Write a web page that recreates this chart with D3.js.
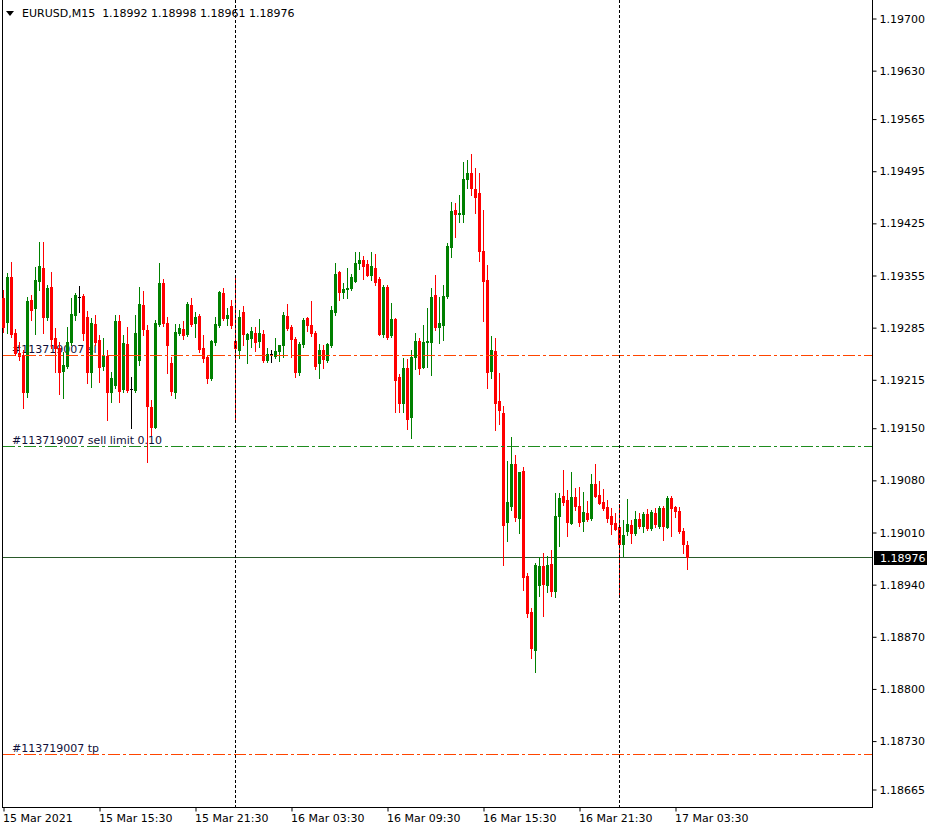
<!DOCTYPE html>
<html><head><meta charset="utf-8">
<script src="https://cdn.jsdelivr.net/npm/d3@7"></script>
<style>
html,body{margin:0;padding:0;background:#fff;}
svg{display:block;}
text{font-family:"DejaVu Sans",sans-serif;font-size:11px;fill:#000;}
</style>
</head><body>
<svg id="c" width="936" height="832"></svg>
<script>
const symbolTitle = "EURUSD,M15";
const lastQuote = [1.18992, 1.18998, 1.18961, 1.18976];

const opens = [1.19324,1.19292,1.19352,1.19277,1.19250,1.19248,1.19198,1.19322,1.19311,1.19347,
1.19365,1.19299,1.19339,1.19270,1.19257,1.19226,1.19233,1.19265,1.19301,1.19326,
1.19327,1.19299,1.19225,1.19289,1.19268,1.19233,1.19246,1.19198,1.19207,1.19293,
1.19202,1.19262,1.19202,1.19201,1.19241,1.19315,1.19281,1.19178,1.19151,1.19289,
1.19344,1.19291,1.19237,1.19198,1.19277,1.19282,1.19276,1.19315,1.19291,1.19300,
1.19257,1.19245,1.19217,1.19265,1.19288,1.19331,1.19297,1.19313,1.19266,1.19254,
1.19305,1.19269,1.19270,1.19277,1.19266,1.19276,1.19241,1.19249,1.19246,1.19253,
1.19261,1.19300,1.19285,1.19269,1.19225,1.19262,1.19297,1.19288,1.19277,1.19237,
1.19254,1.19241,1.19261,1.19305,1.19359,1.19332,1.19336,1.19338,1.19347,1.19371,
1.19375,1.19370,1.19355,1.19365,1.19350,1.19276,1.19339,1.19275,1.19296,1.19218,
1.19183,1.19230,1.19164,1.19245,1.19266,1.19232,1.19265,1.19265,1.19328,1.19285,
1.19288,1.19327,1.19393,1.19442,1.19437,1.19437,1.19484,1.19492,1.19470,1.19465,
1.19387,1.19348,1.19226,1.19253,1.19186,1.19170,1.19023,1.19045,1.19101,1.19029,
1.19092,1.18951,1.18903,1.18852,1.18939,1.18964,1.18939,1.18967,1.18931,1.19032,
1.19058,1.19053,1.19022,1.19057,1.19045,1.19025,1.19036,1.19029,1.19075,1.19060,
1.19050,1.19044,1.19032,1.19022,1.19017,1.18994,1.19011,1.19020,1.19009,1.19028,
1.19018,1.19034,1.19015,1.19036,1.19018,1.19042,1.19017,1.19056,1.19044,1.19038,
1.19011,1.18992];

const highs = [1.19335,1.19358,1.19372,1.19283,1.19265,1.19254,1.19326,1.19328,1.19366,1.19399,
1.19399,1.19342,1.19359,1.19284,1.19265,1.19252,1.19285,1.19324,1.19331,1.19340,
1.19330,1.19307,1.19297,1.19301,1.19275,1.19270,1.19254,1.19225,1.19301,1.19301,
1.19275,1.19285,1.19218,1.19301,1.19339,1.19334,1.19288,1.19187,1.19295,1.19371,
1.19350,1.19299,1.19245,1.19289,1.19289,1.19293,1.19319,1.19324,1.19305,1.19303,
1.19275,1.19248,1.19268,1.19299,1.19334,1.19338,1.19311,1.19322,1.19352,1.19308,
1.19313,1.19277,1.19285,1.19285,1.19296,1.19281,1.19257,1.19254,1.19270,1.19261,
1.19305,1.19316,1.19288,1.19272,1.19265,1.19297,1.19299,1.19320,1.19280,1.19262,
1.19261,1.19264,1.19313,1.19371,1.19360,1.19344,1.19365,1.19356,1.19386,1.19386,
1.19381,1.19375,1.19386,1.19383,1.19352,1.19342,1.19342,1.19318,1.19297,1.19222,
1.19244,1.19242,1.19254,1.19277,1.19270,1.19288,1.19311,1.19338,1.19355,1.19326,
1.19342,1.19398,1.19453,1.19452,1.19462,1.19507,1.19509,1.19518,1.19499,1.19492,
1.19442,1.19369,1.19273,1.19270,1.19224,1.19179,1.19105,1.19138,1.19113,1.19091,
1.19097,1.18955,1.18908,1.18968,1.18977,1.18982,1.18978,1.18986,1.19062,1.19062,
1.19093,1.19066,1.19091,1.19069,1.19070,1.19064,1.19052,1.19088,1.19101,1.19079,
1.19068,1.19053,1.19042,1.19036,1.19048,1.19026,1.19054,1.19026,1.19038,1.19036,
1.19037,1.19041,1.19040,1.19042,1.19045,1.19045,1.19058,1.19058,1.19045,1.19044,
1.19015,1.18998];

const lows = [1.19279,1.19277,1.19272,1.19248,1.19241,1.19177,1.19191,1.19295,1.19276,1.19335,
1.19277,1.19295,1.19257,1.19225,1.19195,1.19190,1.19230,1.19261,1.19295,1.19305,
1.19268,1.19210,1.19205,1.19261,1.19211,1.19228,1.19160,1.19185,1.19203,1.19185,
1.19198,1.19198,1.19150,1.19198,1.19234,1.19275,1.19104,1.19140,1.19150,1.19287,
1.19287,1.19224,1.19194,1.19190,1.19275,1.19269,1.19273,1.19287,1.19272,1.19252,
1.19238,1.19210,1.19214,1.19261,1.19285,1.19295,1.19288,1.19284,1.19160,1.19244,
1.19261,1.19237,1.19258,1.19253,1.19258,1.19238,1.19238,1.19238,1.19244,1.19240,
1.19245,1.19281,1.19245,1.19218,1.19221,1.19258,1.19280,1.19273,1.19229,1.19217,
1.19230,1.19238,1.19258,1.19301,1.19322,1.19324,1.19324,1.19335,1.19346,1.19363,
1.19350,1.19354,1.19348,1.19342,1.19275,1.19272,1.19269,1.19272,1.19171,1.19171,
1.19171,1.19148,1.19136,1.19229,1.19222,1.19230,1.19232,1.19221,1.19281,1.19264,
1.19268,1.19324,1.19379,1.19406,1.19426,1.19426,1.19472,1.19462,1.19438,1.19374,
1.19293,1.19203,1.19217,1.19147,1.19155,1.18966,1.18998,1.19040,1.19025,1.19009,
1.18932,1.18896,1.18841,1.18822,1.18924,1.18897,1.18929,1.18924,1.18923,1.18991,
1.19046,1.19005,1.19021,1.19040,1.19018,1.19011,1.19025,1.19026,1.19057,1.19048,
1.19040,1.19023,1.19007,1.19013,1.18926,1.18978,1.19006,1.18995,1.19006,1.19015,
1.19010,1.19013,1.19013,1.19017,1.19015,1.18999,1.19015,1.19005,1.19030,1.19009,
1.18982,1.18961];

const closes = [1.19285,1.19352,1.19276,1.19250,1.19246,1.19198,1.19320,1.19308,1.19348,1.19367,
1.19299,1.19338,1.19269,1.19257,1.19225,1.19234,1.19265,1.19303,1.19328,1.19326,
1.19277,1.19225,1.19291,1.19265,1.19232,1.19246,1.19198,1.19217,1.19293,1.19199,
1.19264,1.19201,1.19202,1.19277,1.19316,1.19282,1.19179,1.19151,1.19291,1.19344,
1.19291,1.19261,1.19199,1.19279,1.19284,1.19275,1.19316,1.19289,1.19299,1.19256,
1.19244,1.19217,1.19266,1.19289,1.19332,1.19297,1.19301,1.19288,1.19257,1.19299,
1.19276,1.19276,1.19280,1.19265,1.19277,1.19241,1.19249,1.19249,1.19253,1.19261,
1.19301,1.19284,1.19269,1.19225,1.19262,1.19295,1.19288,1.19277,1.19233,1.19254,
1.19242,1.19262,1.19308,1.19356,1.19332,1.19336,1.19338,1.19352,1.19371,1.19375,
1.19367,1.19355,1.19367,1.19346,1.19276,1.19339,1.19272,1.19296,1.19214,1.19183,
1.19230,1.19162,1.19245,1.19266,1.19230,1.19265,1.19266,1.19326,1.19285,1.19291,
1.19327,1.19394,1.19441,1.19437,1.19438,1.19484,1.19492,1.19472,1.19460,1.19387,
1.19347,1.19225,1.19254,1.19183,1.19174,1.19020,1.19050,1.19101,1.19030,1.19091,
1.18950,1.18901,1.18854,1.18966,1.18964,1.18940,1.18966,1.18931,1.19032,1.19056,
1.19050,1.19023,1.19057,1.19045,1.19023,1.19037,1.19028,1.19075,1.19058,1.19049,
1.19042,1.19029,1.19021,1.19014,1.18994,1.19006,1.19021,1.19009,1.19028,1.19018,
1.19034,1.19015,1.19037,1.19021,1.19042,1.19018,1.19056,1.19042,1.19038,1.19011,
1.18994,1.18976];

const priceTicks = [1.19700,1.19630,1.19565,1.19495,1.19425,1.19355,1.19285,1.19215,
1.19150,1.19080,1.19010,1.18940,1.18870,1.18800,1.18730,1.18665];
const timeTickBars = [0,24,48,72,96,120,144,168];
const timeTickLabels = ["15 Mar 2021","15 Mar 15:30","15 Mar 21:30","16 Mar 03:30",
"16 Mar 09:30","16 Mar 15:30","16 Mar 21:30","17 Mar 03:30"];
const separatorBars = [58,154];
const bidPrice = 1.18976;
const orderPrices = [1.19248, 1.19125, 1.18712];
const orderTexts = ["#113719007 sl", "#113719007 sell limit 0.10", "#113719007 tp"];

// styles
const orderColors = ["rgb(255,69,0)", "rgb(30,140,30)", "rgb(255,69,0)"];
const bullColor = "#008000", bearColor = "#ff0000", dojiColor = "#000000";
const bidColor = "#2a5a2a";

const n = opens.length;
const svg = d3.select("#c");
const plotLeft = 2, plotRight = 872, plotBottom = 807;

const x = d3.scaleLinear().domain([0, n - 1]).range([3, 687]);
const y = d3.scaleLinear().domain([1.18665, 1.19700]).range([789, 18]);
const X = i => Math.round(x(i));
const Y = v => Math.round(y(v));

svg.append("rect").attr("width", 936).attr("height", 832).attr("fill", "#fff");

const frame = svg.append("g").attr("shape-rendering", "crispEdges");
frame.append("line").attr("x1", plotLeft + 0.5).attr("x2", plotLeft + 0.5).attr("y1", 0).attr("y2", plotBottom + 0.5)
  .attr("stroke", "#000");
frame.append("line").attr("x1", plotLeft).attr("x2", plotRight + 1).attr("y1", plotBottom + 0.5).attr("y2", plotBottom + 0.5)
  .attr("stroke", "#000");
frame.append("line").attr("x1", plotRight + 0.5).attr("x2", plotRight + 0.5).attr("y1", 0).attr("y2", plotBottom + 0.5)
  .attr("stroke", "#000");

// order labels (behind candles)
const orders = svg.append("g");
orderPrices.forEach((p, k) => {
  orders.append("text").attr("x", 12).attr("y", Y(p) - 2.5).style("fill", "#10103a").text(orderTexts[k]);
});

// bid line
svg.append("line").attr("x1", plotLeft + 1).attr("x2", plotRight).attr("y1", Y(bidPrice) + 0.5).attr("y2", Y(bidPrice) + 0.5)
  .attr("stroke", bidColor).attr("shape-rendering", "crispEdges");

// candles
const data = d3.range(n).map(i => ({i, o: opens[i], h: highs[i], l: lows[i], c: closes[i]}));
const colorOf = d => d.c > d.o ? bullColor : (d.c < d.o ? bearColor : dojiColor);
const g = svg.append("g").attr("shape-rendering", "crispEdges");
g.selectAll("line.wick").data(data).join("line").attr("class", "wick")
  .attr("x1", d => X(d.i) + 0.5).attr("x2", d => X(d.i) + 0.5)
  .attr("y1", d => Y(d.h)).attr("y2", d => Y(d.l) + 1)
  .attr("stroke", colorOf);
g.selectAll("rect.body").data(data).join("rect").attr("class", "body")
  .attr("x", d => X(d.i) - 1).attr("width", 3)
  .attr("y", d => Y(Math.max(d.o, d.c)))
  .attr("height", d => Math.max(1, Y(Math.min(d.o, d.c)) - Y(Math.max(d.o, d.c)) + 1))
  .attr("fill", colorOf);

// order level lines (dash-dot), drawn as thin rects-free lines above candles
orderPrices.forEach((p, k) => {
  const yy = Y(p) + 0.5;
  svg.append("line").attr("x1", plotLeft + 1).attr("x2", plotRight).attr("y1", yy).attr("y2", yy)
    .attr("stroke", orderColors[k]).style("stroke", orderColors[k]).attr("stroke-width", 1)
    .attr("shape-rendering", "crispEdges").attr("stroke-dasharray", "12,3,3,3");
});

// period separators
separatorBars.forEach(b => {
  svg.append("line").attr("x1", X(b) + 0.5).attr("x2", X(b) + 0.5).attr("y1", 0).attr("y2", plotBottom)
    .attr("stroke", "#000").attr("stroke-dasharray", "3,2").attr("shape-rendering", "crispEdges");
});

// right price axis
const yAxis = d3.axisRight(y.copy().range([789.5, 18.5])).tickValues(priceTicks)
  .tickFormat(d => d.toFixed(5)).tickSize(4).tickPadding(3);
const ya = svg.append("g").attr("transform", `translate(${plotRight + 0.5},0)`).call(yAxis);
ya.select(".domain").remove();
ya.selectAll("text").style("font-family", "DejaVu Sans").style("font-size", "11px").attr("fill", "#000");
ya.selectAll("line").attr("stroke", "#000");

// bottom time axis
const xAxis = d3.axisBottom(x.copy().range([3.5, 687.5])).tickValues(timeTickBars)
  .tickFormat((d, k) => timeTickLabels[k]).tickSize(4).tickPadding(3);
const xa = svg.append("g").attr("transform", `translate(0,${plotBottom + 0.5})`).call(xAxis);
xa.select(".domain").remove();
xa.selectAll("text").attr("text-anchor", "start").attr("x", -1)
  .style("font-family", "DejaVu Sans").style("font-size", "11px").attr("fill", "#000");
xa.selectAll("line").attr("stroke", "#000");

// bid price label
const by = Y(bidPrice);
svg.append("rect").attr("x", 874).attr("y", by - 6).attr("width", 53).attr("height", 14).attr("fill", "#000");
svg.append("text").attr("x", 880).attr("y", by + 5).style("fill", "#fff")
  .text(bidPrice.toFixed(5));

// header
svg.append("path").attr("d", "M6,11 L14,11 L10,16 Z").attr("fill", "#000");
svg.append("text").attr("x", 22).attr("y", 17).attr("xml:space", "preserve").style("white-space", "pre")
  .text(symbolTitle + "  " + lastQuote.map(v => v.toFixed(5)).join(" "));
</script>
</body></html>
